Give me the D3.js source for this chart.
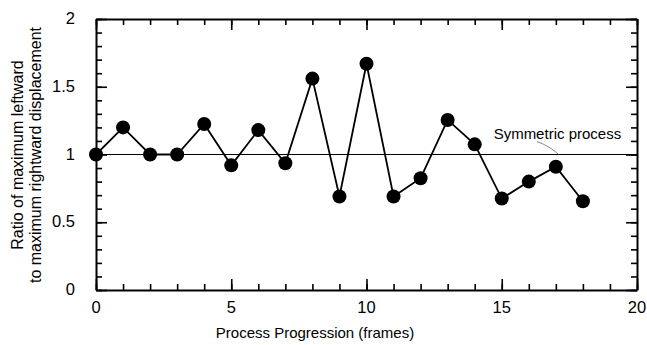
<!DOCTYPE html>
<html>
<head>
<meta charset="utf-8">
<script src="https://cdn.jsdelivr.net/npm/d3@7"></script>
<style>
  body { margin: 0; background: #fff; }
  text { font-family: "Liberation Sans", Arial, sans-serif; fill: #000; }
</style>
</head>
<body>
<div id="chart"></div>
<script>
// data
const frames = [0, 1, 2, 3, 4, 5, 6, 7, 8, 9, 10, 11, 12, 13, 14, 15, 16, 17, 18];
const ratios = [1.0, 1.2, 1.0, 1.0, 1.225, 0.92, 1.18, 0.935, 1.56, 0.69, 1.67,
    0.69, 0.825, 1.255, 1.075, 0.675, 0.80, 0.91, 0.655];
const xMajorTicks = [0, 5, 10, 15, 20];
const yMajorTicks = [0, 0.5, 1, 1.5, 2];
const yTickLabels = ["0", "0.5", "1", "1.5", "2"];
const symmetricValue = 1;
const xTitle = "Process Progression  (frames)";
const yTitleLines = ["Ratio of maximum leftward", "to maximum rightward displacement"];
const refLabel = "Symmetric process";

const width = 647, height = 345;
const margin = { top: 19, right: 10, bottom: 55, left: 96 };
const plotW = 637 - margin.left;
const plotH = 290 - margin.top;

const svg = d3.select("#chart").append("svg")
    .attr("width", width)
    .attr("height", height);
const g = svg.append("g")
    .attr("transform", "translate(" + margin.left + "," + margin.top + ")");

const x = d3.scaleLinear().domain([0, 20]).range([0, plotW]);
const y = d3.scaleLinear().domain([0, 2]).range([plotH, 0]);

const xMinor = d3.range(0, 21, 1);
const yMinor = d3.range(0, 21, 1).map(d => d / 10);

// tick labels
g.selectAll(".xlab")
    .data(xMajorTicks).enter()
    .append("text").attr("class", "xlab")
    .attr("x", d => x(d))
    .attr("y", plotH + 23)
    .attr("text-anchor", "middle")
    .style("font-size", "16.5px")
    .text(d => d);
g.selectAll(".ylab")
    .data(yMajorTicks).enter()
    .append("text").attr("class", "ylab")
    .attr("x", -21)
    .attr("y", d => y(d) + 5)
    .attr("text-anchor", "end")
    .style("font-size", "16.5px")
    .text((d, i) => yTickLabels[i]);

// symmetric reference line
g.append("line")
    .attr("x1", x(0)).attr("x2", x(20))
    .attr("y1", y(symmetricValue)).attr("y2", y(symmetricValue))
    .attr("stroke", "#000")
    .attr("stroke-width", 1.2);

g.append("text")
    .attr("x", x(14.7))
    .attr("y", y(symmetricValue) - 16)
    .style("font-size", "15px")
    .text(refLabel);
g.append("path")
    .attr("d", "M" + x(16.3) + "," + (y(symmetricValue) - 13)
        + " Q" + x(16.8) + "," + (y(symmetricValue) - 8)
        + " " + x(17.1) + "," + y(symmetricValue))
    .attr("fill", "none")
    .attr("stroke", "#555")
    .attr("stroke-width", 0.7);

// data line + markers
const line = d3.line()
    .x((d, i) => x(frames[i]))
    .y(d => y(d));
g.append("path")
    .datum(ratios)
    .attr("d", line)
    .attr("fill", "none")
    .attr("stroke", "#000")
    .attr("stroke-width", 1.8);
g.selectAll("circle")
    .data(ratios).enter()
    .append("circle")
    .attr("cx", (d, i) => x(frames[i]))
    .attr("cy", d => y(d))
    .attr("r", 7)
    .attr("fill", "#000");

// frame and inward ticks on all four sides, drawn last
function frameAxis(axisFn, scale, values, len, tx, ty, keepDomain) {
    const ax = g.append("g")
        .attr("transform", "translate(" + tx + "," + ty + ")")
        .call(axisFn(scale).tickValues(values).tickSizeInner(-len)
            .tickSizeOuter(0).tickFormat(() => ""));
    ax.selectAll("line").attr("stroke", "#000").attr("stroke-width", 1.6);
    ax.select(".domain")
        .attr("stroke", "#000")
        .attr("stroke-width", keepDomain ? 2 : 0);
}
frameAxis(d3.axisBottom, x, xMinor, 6, 0, plotH, true);
frameAxis(d3.axisBottom, x, xMajorTicks, 11, 0, plotH, false);
frameAxis(d3.axisTop, x, xMinor, 6, 0, 0, true);
frameAxis(d3.axisTop, x, xMajorTicks, 11, 0, 0, false);
frameAxis(d3.axisLeft, y, yMinor, 6, 0, 0, true);
frameAxis(d3.axisLeft, y, yMajorTicks, 11, 0, 0, false);
frameAxis(d3.axisRight, y, yMinor, 6, plotW, 0, true);
frameAxis(d3.axisRight, y, yMajorTicks, 11, plotW, 0, false);

// axis titles
svg.append("text")
    .attr("x", 315)
    .attr("y", 338)
    .attr("text-anchor", "middle")
    .style("font-size", "15px")
    .text(xTitle);
const yTitle = svg.append("text")
    .attr("transform", "translate(23,155) rotate(-90)")
    .attr("text-anchor", "middle")
    .style("font-size", "16px");
yTitleLines.forEach((t, i) => {
    yTitle.append("tspan")
        .attr("x", 0)
        .attr("dy", i === 0 ? 0 : 17.5)
        .text(t);
});
</script>
</body>
</html>
